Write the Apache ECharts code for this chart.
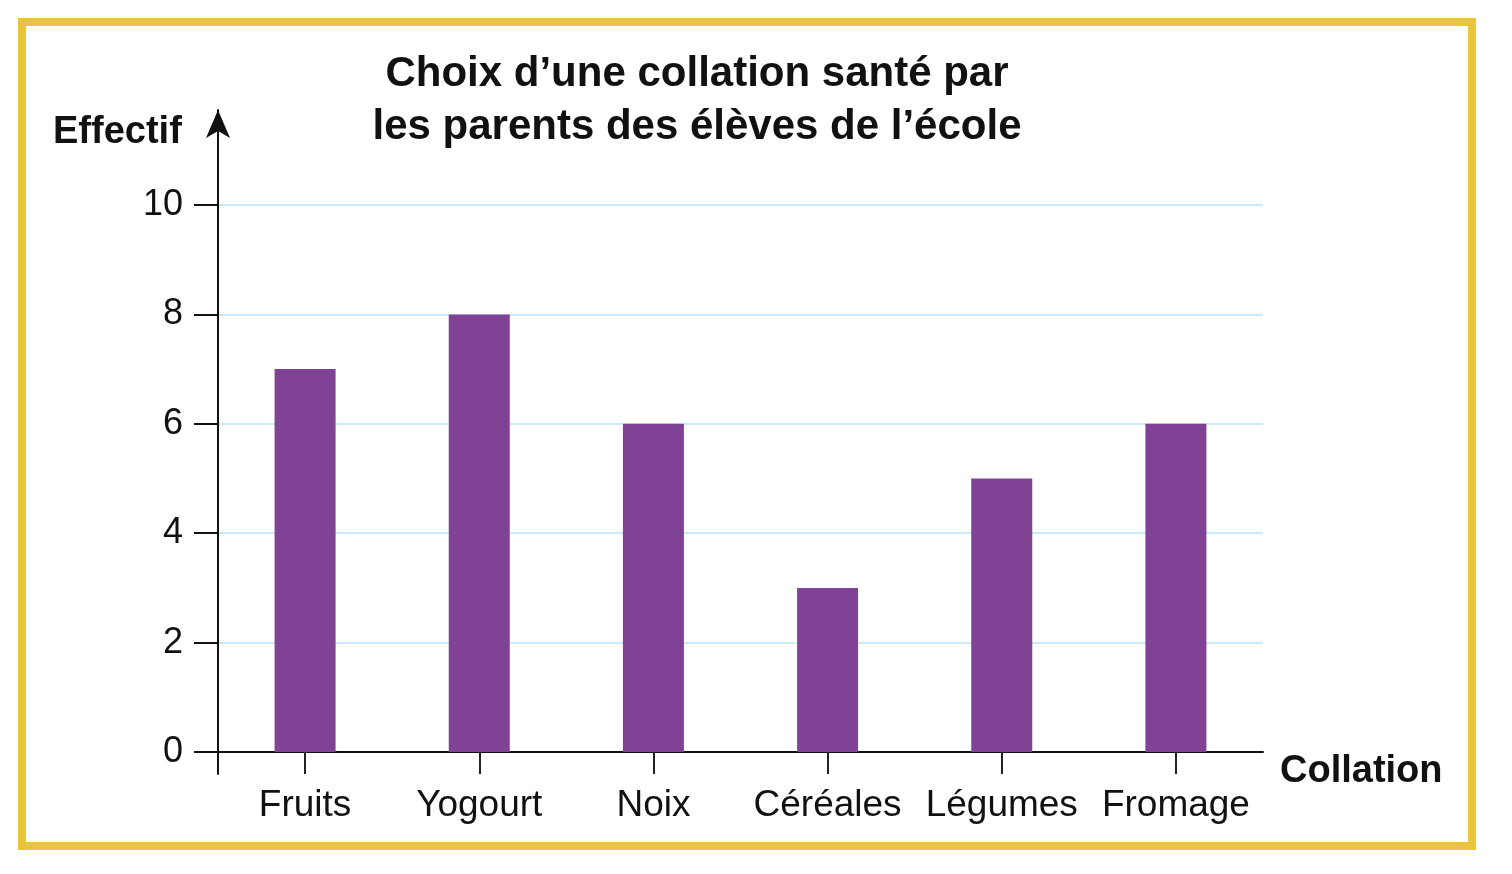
<!DOCTYPE html>
<html>
<head>
<meta charset="utf-8">
<script src="https://cdn.jsdelivr.net/npm/echarts@6/dist/echarts.min.js"></script>
<style>
html,body{margin:0;padding:0;background:#fff;}
#chart{width:1512px;height:874px;}
</style>
</head>
<body>
<div id="chart"></div>
<script>
const categories = ['Fruits', 'Yogourt', 'Noix', 'Céréales', 'Légumes', 'Fromage'];
const effectif = [7, 8, 6, 3, 5, 6];
const yTicks = [0, 2, 4, 6, 8, 10];
const titleText = 'Choix d’une collation santé par\nles parents des élèves de l’école';
const yName = 'Effectif';
const xName = 'Collation';

const FONT = '"Liberation Sans", Arial, Helvetica, sans-serif';
const chart = echarts.init(document.getElementById('chart'), null, {renderer: 'canvas'});

chart.setOption({
  backgroundColor: '#ffffff',
  animation: false,
  graphic: [{
    type: 'rect', silent: true, z: 0,
    shape: {x: 22, y: 22, width: 1450, height: 824},
    style: {fill: 'none', stroke: '#E9C53B', lineWidth: 8}
  }],
  title: [{
    text: titleText,
    left: 692, top: 43, textAlign: 'center',
    textStyle: {fontFamily: FONT, fontWeight: 'bold', fontSize: 42, lineHeight: 53, color: '#111'}
  }, {
    text: yName,
    left: 48, top: 109,
    textStyle: {fontFamily: FONT, fontWeight: 'bold', fontSize: 38, color: '#111'}
  }],
  grid: [
    {left: 218, right: 249, top: 205, bottom: 122, containLabel: false},
    {left: 218, right: 249, top: 110, bottom: 100, containLabel: false}
  ],
  xAxis: [{
    gridIndex: 0,
    type: 'category',
    data: categories,
    name: xName,
    nameLocation: 'end',
    nameGap: 17,
    nameTextStyle: {fontFamily: FONT, fontWeight: 'bold', fontSize: 38, color: '#111', verticalAlign: 'top', lineHeight: 40},
    axisLine: {show: true, lineStyle: {color: '#111', width: 2}},
    axisTick: {show: true, alignWithLabel: true, length: 22, lineStyle: {color: '#222', width: 2}},
    axisLabel: {fontFamily: FONT, fontSize: 37, color: '#111', margin: 35, interval: 0},
    splitLine: {show: false}
  }, {
    gridIndex: 1, type: 'value', min: 0, max: 1, show: false
  }],
  yAxis: [{
    gridIndex: 0,
    type: 'value',
    min: yTicks[0], max: yTicks[yTicks.length - 1], interval: 2,
    axisLine: {show: false},
    axisTick: {show: true, length: 24, lineStyle: {color: '#111', width: 2}},
    axisLabel: {fontFamily: FONT, fontSize: 36, color: '#111', margin: 35},
    splitLine: {show: true, lineStyle: {color: '#BFE3F4', width: 1.5}}
  }, {
    gridIndex: 1,
    type: 'value', min: 0, max: 1,
    axisLine: {show: true, onZero: false, symbol: ['none', 'arrow'], symbolSize: [18, 28], lineStyle: {color: '#111', width: 2}},
    axisTick: {show: false},
    axisLabel: {show: false},
    splitLine: {show: false}
  }],
  series: [{
    type: 'bar',
    xAxisIndex: 0, yAxisIndex: 0,
    data: effectif,
    barWidth: 61,
    itemStyle: {color: '#7F4294'}
  }]
});
</script>
</body>
</html>
